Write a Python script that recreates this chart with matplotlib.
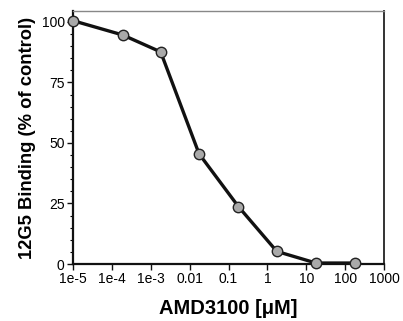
import matplotlib
matplotlib.use('Agg')
from matplotlib import pyplot as plt
from matplotlib.ticker import LogLocator, NullFormatter, FixedLocator, MultipleLocator
import numpy as np

# Datos
concentracion = [1e-5, 1.9e-4, 1.8e-3, 1.75e-2, 0.18, 1.75, 17.8, 178]
union = [100.5, 94.6, 87.6, 45.5, 23.7, 5.2, 0.4, 0.4]
ticks_x = [1e-5, 1e-4, 1e-3, 1e-2, 1e-1, 1, 10, 100, 1000]
etiquetas_x = ['1e-5', '1e-4', '1e-3', '0.01', '0.1', '1', '10', '100', '1000']
ticks_y = [0, 25, 50, 75, 100]

plt.rcParams['font.family'] = ['Liberation Sans', 'DejaVu Sans']

fig = plt.figure(figsize=(4.03, 3.21), dpi=100)
ax = fig.add_axes([73/403, 57/321, 311/403, 253/321])

ax.plot(concentracion, union, color='#111111', lw=2.4, marker='o', ms=7.5,
        mfc='#a9a9a9', mec='#222222', mew=1.0, clip_on=False, zorder=3)

ax.set_xscale('log')
ax.set_xlim(1e-5, 1000)
ax.set_ylim(0, 104.5)
ax.xaxis.set_major_locator(FixedLocator(ticks_x))
ax.set_xticklabels(etiquetas_x)
ax.xaxis.set_minor_locator(LogLocator(base=10, subs=np.arange(2, 10)))
ax.xaxis.set_minor_formatter(NullFormatter())
ax.set_yticks(ticks_y)
ax.yaxis.set_minor_locator(MultipleLocator(5))

ax.tick_params(axis='both', which='major', labelsize=10, length=4, width=1, color='#111111', pad=2)
ax.tick_params(axis='x', which='minor', direction='in', length=2.5, width=0.8)
ax.tick_params(axis='y', which='minor', length=2.5, width=0.8)

for s in ['left', 'bottom']:
    ax.spines[s].set_linewidth(1.6)
    ax.spines[s].set_color('#111111')
ax.spines['top'].set_linewidth(1.0)
ax.spines['top'].set_color('#888888')
ax.spines['right'].set_linewidth(1.4)
ax.spines['right'].set_color('#333333')

ax.set_xlabel('AMD3100 [μM]', fontsize=14.5, fontweight='bold', labelpad=9)
ax.set_ylabel('12G5 Binding (% of control)', fontsize=13.2, fontweight='bold', labelpad=4)

plt.savefig('out.png', dpi=100)
